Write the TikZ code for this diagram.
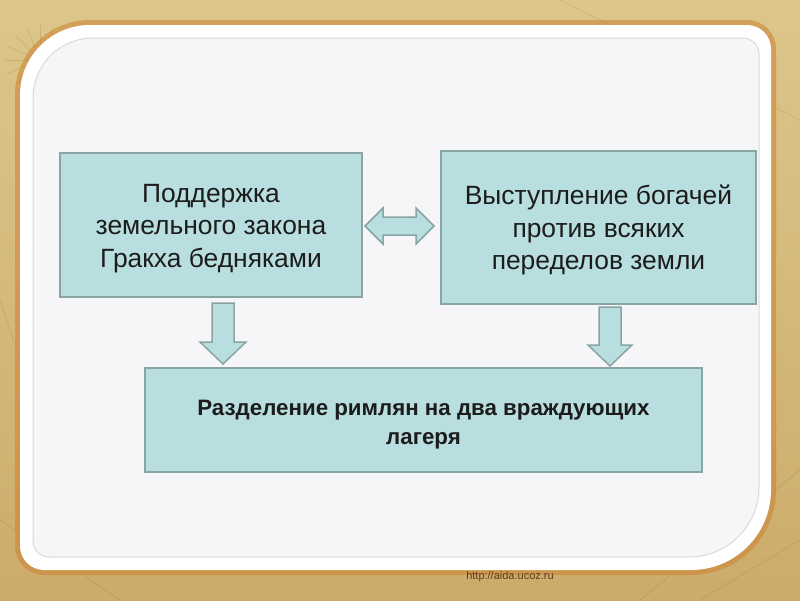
\documentclass[tikz,border=0pt]{standalone}
\usepackage{fontspec}
\setmainfont{Liberation Sans}
\definecolor{bgtan}{RGB}{220,198,138}
\definecolor{bgdark}{RGB}{200,165,98}
\definecolor{glow}{RGB}{205,130,50}
\definecolor{mapline}{RGB}{150,110,50}
\definecolor{panelin}{RGB}{246,246,248}
\definecolor{panelline}{RGB}{218,218,221}
\definecolor{boxfill}{RGB}{184,222,224}
\definecolor{boxline}{RGB}{138,164,164}
\definecolor{txt}{RGB}{28,28,28}
\definecolor{wm}{RGB}{90,60,30}
\newcommand{\topstrut}{\rule{0pt}{25pt}}
\begin{document}
\begin{tikzpicture}[x=1pt,y=-1pt,
  box/.style={draw=boxline,line width=2pt,fill=boxfill,rectangle,inner sep=0pt,
    text=txt,align=center},
  plain/.style={font=\fontsize{26.4}{32.5}\selectfont},
  strong/.style={font=\fontsize{22.3}{29.5}\selectfont\bfseries},
  blockarrow/.style={draw=boxline,line width=1.5pt,fill=boxfill,line join=miter}]
% background
\useasboundingbox (0,0) rectangle (800,600);
\shade[top color=bgtan,bottom color=bgdark!80!bgtan] (0,0) rectangle (800,600);
% faint map lines
\begin{scope}[draw=mapline,opacity=0.25,line width=0.6pt]
  \foreach \a in {0,22.5,...,157.5}
    \draw (40,60) ++(\a:-35) -- ++(\a:70);
  \draw (0,520) -- (120,600);
  \draw (640,600) -- (800,470);
  \draw (700,600) -- (800,540);
  \draw (560,0) -- (800,120);
  \draw (0,300) -- (20,360);
\end{scope}
% orange glow around the panel
\path[draw=glow,line width=10pt,opacity=0.55]
  (400,25) [rounded corners=24pt] -- (771,25) -- (771,300) [rounded corners=80pt]
  -- (771,570) -- (400,570) [rounded corners=24pt] -- (20,570) -- (20,300)
  [rounded corners=70pt] -- (20,25) -- cycle;
% white panel
\path[fill=white]
  (400,25) [rounded corners=24pt] -- (771,25) -- (771,300) [rounded corners=80pt]
  -- (771,570) -- (400,570) [rounded corners=24pt] -- (20,570) -- (20,300)
  [rounded corners=70pt] -- (20,25) -- cycle;
% inner panel
\path[fill=panelin,draw=panelline,line width=1pt]
  (400,38) [rounded corners=16pt] -- (759,38) -- (759,300) [rounded corners=70pt]
  -- (759,557) -- (400,557) [rounded corners=16pt] -- (33,557) -- (33,300)
  [rounded corners=60pt] -- (33,38) -- cycle;
% boxes
\node[box,minimum width=302pt,minimum height=144pt,plain] (b1) at (211,225)
  {\topstrut Поддержка\\земельного закона\\Гракха бедняками};
\node[box,minimum width=315pt,minimum height=153pt,plain] (b2) at (598.5,227.5)
  {\topstrut Выступление богачей\\против всяких\\переделов земли};
\node[box,minimum width=557pt,minimum height=104pt,strong] (b3) at (423.5,420)
  {\topstrut Разделение римлян на два враждующих\\лагеря};
% double arrow between b1 and b2
\draw[blockarrow] (365,226) -- (383,208) -- (383,217) -- (416,217) -- (416,208)
  -- (434,226) -- (416,244) -- (416,235) -- (383,235) -- (383,244) -- cycle;
% down arrows
\draw[blockarrow] (212,303) -- (234,303) -- (234,342) -- (246,342) -- (223,364)
  -- (200,342) -- (212,342) -- cycle;
\draw[blockarrow] (599,307) -- (621,307) -- (621,345) -- (632,345) -- (610,366)
  -- (588,345) -- (599,345) -- cycle;
% watermark
\node[text=wm,font=\fontsize{11}{13}\selectfont,inner sep=0pt] (wmark) at (510,577)
  {http://aida.ucoz.ru};
\end{tikzpicture}
\end{document}
